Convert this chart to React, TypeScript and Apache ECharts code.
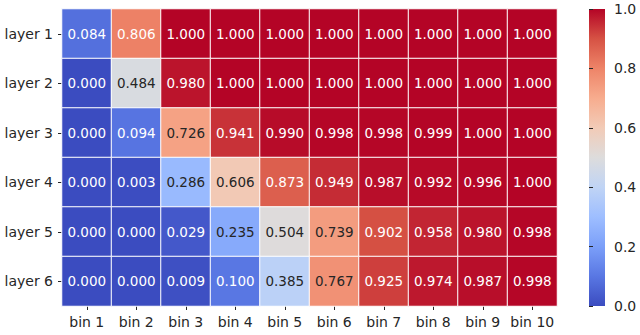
import React, { useEffect, useRef } from "react";
import * as echarts from "echarts";

const bins = ["bin 1", "bin 2", "bin 3", "bin 4", "bin 5", "bin 6", "bin 7", "bin 8", "bin 9", "bin 10"];
const layers = ["layer 1", "layer 2", "layer 3", "layer 4", "layer 5", "layer 6"];
const layer1 = [0.084, 0.806, 1.0, 1.0, 1.0, 1.0, 1.0, 1.0, 1.0, 1.0];
const layer2 = [0.0, 0.484, 0.98, 1.0, 1.0, 1.0, 1.0, 1.0, 1.0, 1.0];
const layer3 = [0.0, 0.094, 0.726, 0.941, 0.99, 0.998, 0.998, 0.999, 1.0, 1.0];
const layer4 = [0.0, 0.003, 0.286, 0.606, 0.873, 0.949, 0.987, 0.992, 0.996, 1.0];
const layer5 = [0.0, 0.0, 0.029, 0.235, 0.504, 0.739, 0.902, 0.958, 0.98, 0.998];
const layer6 = [0.0, 0.0, 0.009, 0.1, 0.385, 0.767, 0.925, 0.974, 0.987, 0.998];
const rows = [layer1, layer2, layer3, layer4, layer5, layer6];
const colorbarTicks = [0, 0.2, 0.4, 0.6, 0.8, 1.0];

const coolwarm = ["#3b4cc0", "#5977e3", "#7b9ff9", "#9ebeff", "#c0d4f5", "#dddcdc", "#f2cbb7", "#f7ac8e", "#ee8468", "#d65244", "#b40426"];

export default function App() {
  const ref = useRef<HTMLDivElement>(null);
  useEffect(() => {
    const chart = echarts.init(ref.current!, null, { renderer: "svg" });
    const data: any[] = [];
    rows.forEach((row, yi) => {
      row.forEach((v, xi) => {
        const dark = v > 0.15 && v < 0.79;
        data.push({ value: [xi, yi, v], label: { color: dark ? "#262626" : "#ffffff" } });
      });
    });
    const font = "DejaVu Sans";
    const n = coolwarm.length;
    const stops = coolwarm.map((_, i) => ({ offset: i / (n - 1), color: coolwarm[n - 1 - i] }));
    chart.setOption({
      animation: false,
      textStyle: { fontFamily: font },
      grid: [
        { left: 62, top: 9, width: 495, height: 297 },
        { left: 589, top: 9, width: 16, height: 297 },
      ],
      xAxis: [
        {
          type: "category",
          data: bins,
          gridIndex: 0,
          axisLine: { show: false },
          axisTick: { show: true, alignWithLabel: true, length: 4, lineStyle: { color: "#262626" } },
          axisLabel: { color: "#262626", fontSize: 14, fontFamily: font, margin: 9, interval: 0 },
          splitArea: { show: false },
        },
        { type: "value", gridIndex: 1, show: false, min: 0, max: 1 },
      ],
      yAxis: [
        {
          type: "category",
          data: layers,
          inverse: true,
          gridIndex: 0,
          axisLine: { show: false },
          axisTick: { show: true, alignWithLabel: true, length: 4, lineStyle: { color: "#262626" } },
          axisLabel: { color: "#262626", fontSize: 14, fontFamily: font, margin: 9, interval: 0 },
        },
        {
          type: "value",
          gridIndex: 1,
          position: "right",
          min: 0,
          max: 1,
          interval: 0.2,
          axisLine: { show: false },
          splitLine: { show: false },
          axisTick: { show: true, length: 4, lineStyle: { color: "#262626" } },
          axisLabel: {
            color: "#262626",
            fontSize: 14,
            fontFamily: font,
            margin: 9,
            formatter: (v: number) => (colorbarTicks.includes(Math.round(v * 10) / 10) ? v.toFixed(1) : ""),
          },
        },
      ],
      visualMap: {
        type: "continuous",
        show: false,
        min: 0,
        max: 1,
        seriesIndex: 0,
        inRange: { color: coolwarm },
      },
      graphic: [
        {
          type: "rect",
          left: 589,
          top: 9,
          shape: { width: 16, height: 297 },
          style: {
            fill: new echarts.graphic.LinearGradient(0, 0, 0, 1, stops),
          },
          z: -1,
        },
      ],
      series: [
        {
          type: "heatmap",
          xAxisIndex: 0,
          yAxisIndex: 0,
          data,
          label: {
            show: true,
            fontSize: 13.5,
            fontFamily: font,
            formatter: (p: any) => p.value[2].toFixed(3),
          },
          itemStyle: { borderColor: "#ffffff", borderWidth: 1 },
          emphasis: { disabled: true },
        },
      ],
    });
    return () => chart.dispose();
  }, []);
  return <div ref={ref} style={{ width: 640, height: 335, position: "absolute", left: 0, top: 0, background: "#fff" }} />;
}
